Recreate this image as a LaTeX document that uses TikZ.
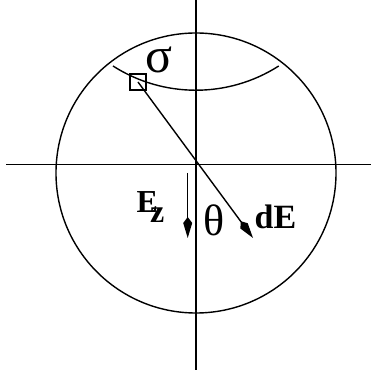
\documentclass[tikz,border=0pt]{standalone}
\usepackage{fontspec}
\setmainfont{Liberation Serif}
\usetikzlibrary{arrows.meta}
\tikzset{
  ln/.style={line width=1.4pt},
  kitearrow/.style={ln, -{Kite[length=21pt,width=9pt,inset=6pt]}},
  lbl/.style={inner sep=0pt, anchor=base west}
}
\begin{document}
\begin{tikzpicture}[x=1pt,y=1pt]
\useasboundingbox (0,0) rectangle (371,378);
% axes
\coordinate (vtop) at (196,378);
\coordinate (vbot) at (196,8);
\coordinate (hl) at (6,213.5);
\coordinate (hr) at (371,213.5);
\draw[ln] (vtop) -- (vbot);
\draw[ln] (hl) -- (hr);
% sphere
\node[ln, draw, circle, minimum size=280pt, inner sep=0pt] (sph) at (196,205) {};
% arc (ring)
\coordinate (arcL) at (113,312);
\draw[ln] (arcL) arc[start angle=237.4, end angle=302.6, radius=153.8];
% surface element
\node[ln, draw, minimum size=16pt, inner sep=0pt] (sq) at (138,296) {};
% dE arrow
\coordinate (dEtip) at (253,140);
\draw[kitearrow] (sq.center) -- (dEtip);
% Ez arrow
\coordinate (Ezs) at (187.7,205);
\coordinate (Eze) at (187.7,140);
\draw[kitearrow] (Ezs) -- (Eze);
% labels
\node[lbl] (sig) at (145,305) {\fontsize{50}{50}\selectfont σ};
\node[lbl] (th) at (203,142) {\fontsize{44}{44}\selectfont θ};
\node[lbl] (dE) at (254.5,149) {\fontsize{34}{34}\selectfont\bfseries dE};
\node[lbl] (Ez) at (136.5,165) {\fontsize{32}{32}\selectfont\bfseries E\kern-8pt\raisebox{-10pt}{z}};
\end{tikzpicture}
\end{document}
